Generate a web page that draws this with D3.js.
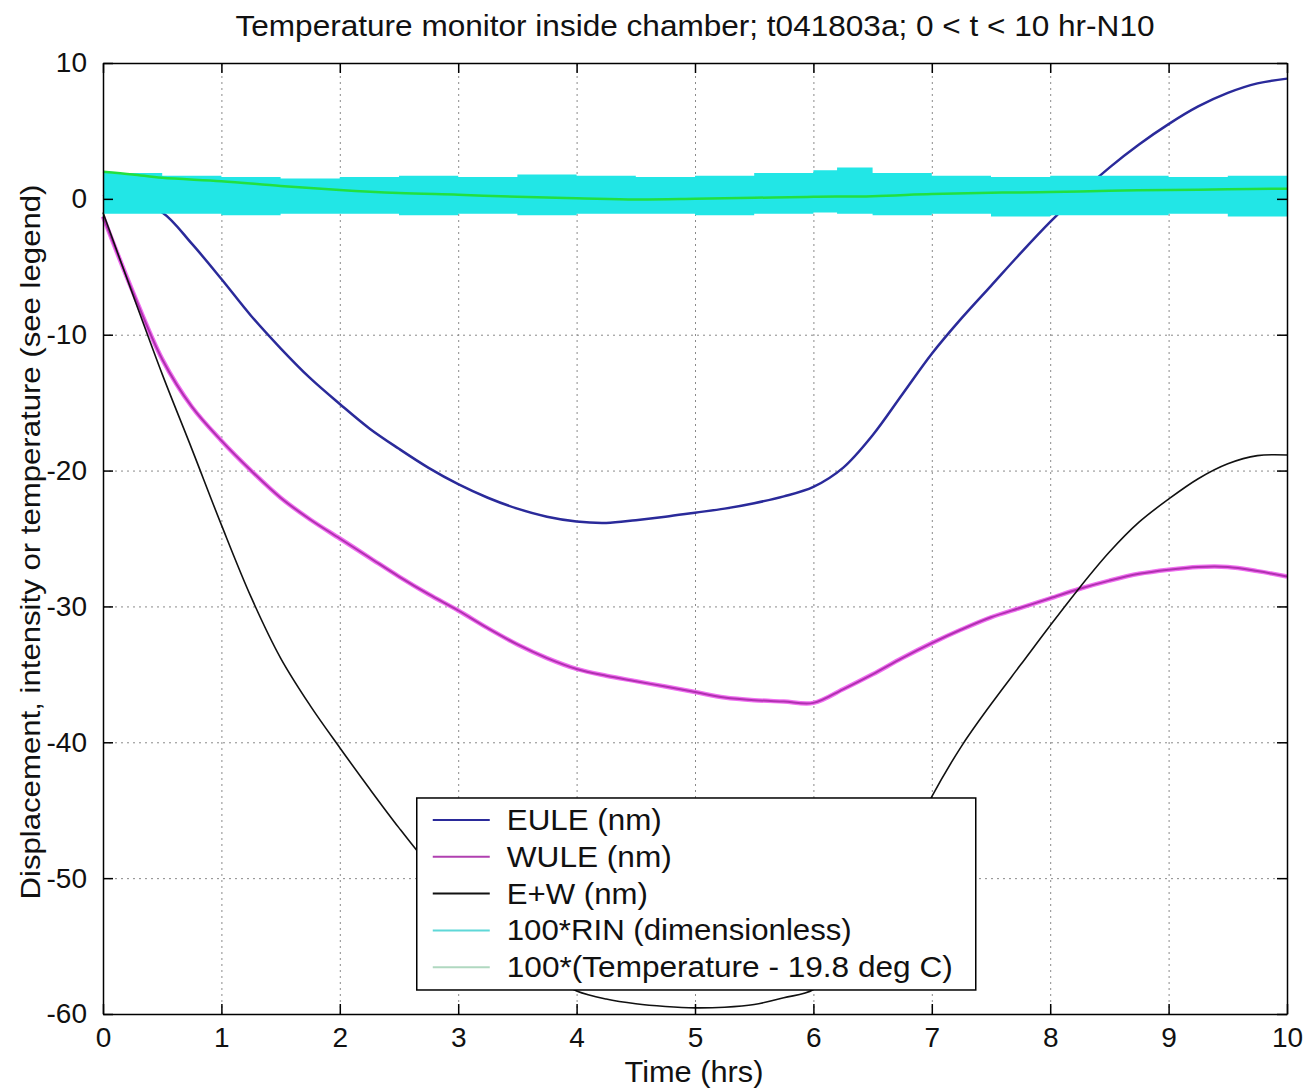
<!DOCTYPE html>
<html>
<head>
<meta charset="utf-8">
<script src="https://cdn.jsdelivr.net/npm/d3@7"></script>
<style>
  body { margin: 0; background: #fff; }
  svg { font-family: "Liberation Sans", Arial, sans-serif; }
  .grid line { stroke: #8a8a8a; stroke-width: 1; stroke-dasharray: 2,4; }
  .grid path { display: none; }
  .axis path, .axis line { stroke: #000; stroke-width: 1.5; }
  .axis text { font-size: 28px; fill: #111; }
</style>
</head>
<body>
<div id="chart"></div>
<script>
// time axis (hrs) for the displacement traces
const times = [0, 0.25, 0.5, 0.75, 1, 1.25, 1.5, 1.75, 2, 2.25, 2.5, 2.75, 3, 3.25, 3.5, 3.75,
  4, 4.25, 4.5, 4.75, 5, 5.25, 5.5, 5.75, 6, 6.25, 6.5, 6.75, 7, 7.25, 7.5, 7.75,
  8, 8.25, 8.5, 8.75, 9, 9.25, 9.5, 9.75, 10];

const eule = [0.3, -0.2, -1.0, -3.3, -5.9, -8.6, -11.0, -13.2, -15.1, -16.9, -18.4, -19.8, -21.0, -22.0, -22.8, -23.4,
  -23.75, -23.85, -23.65, -23.4, -23.1, -22.8, -22.4, -21.9, -21.2, -19.8, -17.4, -14.4, -11.4, -8.8, -6.4, -4.0,
  -1.7, 0.4, 2.3, 4.0, 5.5, 6.8, 7.8, 8.5, 8.85];

const wule = [-1.3, -6.8, -11.8, -15.3, -17.8, -20.0, -22.0, -23.6, -25.0, -26.4, -27.8, -29.1, -30.3, -31.6, -32.8, -33.8,
  -34.6, -35.1, -35.5, -35.9, -36.3, -36.7, -36.9, -37.0, -37.1, -36.1, -35.0, -33.8, -32.7, -31.7, -30.8, -30.1,
  -29.4, -28.7, -28.1, -27.6, -27.3, -27.1, -27.1, -27.4, -27.8];

const eplusw = [-1.0, -7.0, -12.9, -18.4, -24.0, -29.3, -33.8, -37.3, -40.4, -43.4, -46.3, -49.0, -51.3, -53.5, -55.5, -57.1,
  -58.3, -58.9, -59.25, -59.45, -59.55, -59.5, -59.3, -58.8, -58.2, -55.8, -52.4, -48.4, -44.0, -40.3, -37.2, -34.3,
  -31.4, -28.6, -26.0, -23.8, -22.1, -20.6, -19.5, -18.9, -18.85];

// RIN noise band, read as upper / lower envelope
const rinTimes = [0, 0.5, 1, 1.5, 2, 2.5, 3, 3.5, 4, 4.5, 5, 5.5, 6, 6.2, 6.5, 7, 7.5, 8, 8.5, 9, 9.5, 10];
const rinUpper = [1.9, 1.7, 1.6, 1.5, 1.6, 1.7, 1.6, 1.8, 1.7, 1.6, 1.7, 1.9, 2.1, 2.3, 1.9, 1.7, 1.6, 1.7, 1.7, 1.6, 1.7, 1.6];
const rinLower = [-1.1, -1.1, -1.2, -1.1, -1.1, -1.2, -1.1, -1.2, -1.1, -1.1, -1.2, -1.1, -1.0, -1.1, -1.2, -1.1, -1.3, -1.2, -1.2, -1.1, -1.3, -1.2];

const tempTimes = [0, 0.25, 0.5, 1, 1.5, 2, 2.5, 3, 3.5, 4, 4.5, 5, 5.5, 6, 6.5, 7, 7.5, 8, 8.5, 9, 9.5, 10];
const temperature = [2.0, 1.8, 1.55, 1.3, 0.95, 0.65, 0.43, 0.3, 0.15, 0.05, -0.05, 0.0, 0.08, 0.15, 0.2, 0.35, 0.45, 0.5, 0.6, 0.65, 0.7, 0.75];

const xTicks = [0, 1, 2, 3, 4, 5, 6, 7, 8, 9, 10];
const yTicks = [10, 0, -10, -20, -30, -40, -50, -60];

const legendLabels = ["EULE (nm)", "WULE (nm)", "E+W (nm)", "100*RIN (dimensionless)", "100*(Temperature - 19.8 deg C)"];
const legendColors = ["#2a2a9a", "#b040b0", "#111", "#5fd8d8", "#b0d8c0"];
const legendWidths = [155, 165, 141, 345, 446];

const W = 1307, H = 1088;
const margin = {left: 103, top: 63, right: 20, bottom: 74};
const width = W - margin.left - margin.right;
const height = H - margin.top - margin.bottom;

const svg = d3.select('#chart').append('svg')
  .attr('width', W)
  .attr('height', H);

const x = d3.scaleLinear().domain([0, 10]).range([0, width]);
const y = d3.scaleLinear().domain([-60, 10]).range([height, 0]);

const g = svg.append('g')
  .attr('transform', `translate(${margin.left},${margin.top})`);

// dotted grid
g.append('g').attr('class', 'grid')
  .attr('transform', `translate(0,${height})`)
  .call(d3.axisBottom(x).tickValues(xTicks.slice(1, -1)).tickSize(-height).tickFormat(''));
g.append('g').attr('class', 'grid')
  .call(d3.axisLeft(y).tickValues(yTicks.slice(1, -1)).tickSize(-width).tickFormat(''));

const line = d3.line()
  .x((d) => x(d[0]))
  .y((d) => y(d[1]))
  .curve(d3.curveCatmullRom.alpha(0.5));

const pair = (ts, vs) => ts.map((t, i) => [t, vs[i]]);

g.append('path').datum(pair(times, eule))
  .attr('fill', 'none').attr('stroke', '#2a2a9a').attr('stroke-width', 2.5).attr('d', line);
g.append('path').datum(pair(times, wule))
  .attr('fill', 'none').attr('stroke', '#f070f0').attr('stroke-width', 4.5).attr('d', line);
g.append('path').datum(pair(times, wule))
  .attr('fill', 'none').attr('stroke', '#b030b0').attr('stroke-width', 2).attr('d', line);
g.append('path').datum(pair(times, eplusw))
  .attr('fill', 'none').attr('stroke', '#111').attr('stroke-width', 1.6).attr('d', line);

// RIN band
const band = d3.area()
  .x((d) => x(d.t))
  .y0((d) => y(d.lo))
  .y1((d) => y(d.hi))
  .curve(d3.curveStepAfter);
const rin = rinTimes.map((t, i) => ({t: t, lo: rinLower[i], hi: rinUpper[i]}));
g.append('path').datum(rin)
  .attr('fill', '#22e6e6').attr('d', band);

g.append('path').datum(pair(tempTimes, temperature))
  .attr('fill', 'none').attr('stroke', '#22e040').attr('stroke-width', 2.5).attr('d', line);

// axes box with inward ticks
const fmt = (d) => String(d);
g.append('g').attr('class', 'axis')
  .attr('transform', `translate(0,${height})`)
  .call(d3.axisBottom(x).tickValues(xTicks).tickSizeInner(-10).tickSizeOuter(0).tickPadding(13).tickFormat(fmt));
g.append('g').attr('class', 'axis')
  .call(d3.axisTop(x).tickValues(xTicks).tickSizeInner(-10).tickSizeOuter(0).tickFormat(''));
g.append('g').attr('class', 'axis')
  .call(d3.axisLeft(y).tickValues(yTicks).tickSizeInner(-10).tickSizeOuter(0).tickPadding(16).tickFormat(fmt));
g.append('g').attr('class', 'axis')
  .attr('transform', `translate(${width},0)`)
  .call(d3.axisRight(y).tickValues(yTicks).tickSizeInner(-10).tickSizeOuter(0).tickFormat(''));

// legend
const lg = g.append('g').attr('transform', `translate(${x(2.65)},${y(-44.1)})`);
lg.append('rect')
  .attr('width', 559).attr('height', 192)
  .attr('fill', '#fff').attr('stroke', '#000').attr('stroke-width', 1.5);
legendLabels.forEach((lab, i) => {
  const yy = 22 + i * 36.8;
  lg.append('line')
    .attr('x1', 16).attr('x2', 73).attr('y1', yy).attr('y2', yy)
    .attr('stroke', legendColors[i]).attr('stroke-width', 2);
  lg.append('text')
    .attr('x', 90).attr('y', yy + 10)
    .attr('font-size', 29).attr('fill', '#111')
    .attr('textLength', legendWidths[i]).attr('lengthAdjust', 'spacingAndGlyphs')
    .text(lab);
});

// titles
svg.append('text')
  .attr('x', margin.left + width / 2).attr('y', 36)
  .attr('text-anchor', 'middle').attr('font-size', 29).attr('fill', '#111')
  .attr('textLength', 919).attr('lengthAdjust', 'spacingAndGlyphs')
  .text('Temperature monitor inside chamber; t041803a; 0 < t < 10 hr-N10');
svg.append('text')
  .attr('x', 694).attr('y', 1082)
  .attr('text-anchor', 'middle').attr('font-size', 29).attr('fill', '#111')
  .attr('textLength', 139).attr('lengthAdjust', 'spacingAndGlyphs')
  .text('Time (hrs)');
svg.append('text')
  .attr('transform', `translate(40,542) rotate(-90)`)
  .attr('text-anchor', 'middle').attr('font-size', 28).attr('fill', '#111')
  .attr('textLength', 715).attr('lengthAdjust', 'spacingAndGlyphs')
  .text('Displacement, intensity or temperature (see legend)');
</script>
</body>
</html>
